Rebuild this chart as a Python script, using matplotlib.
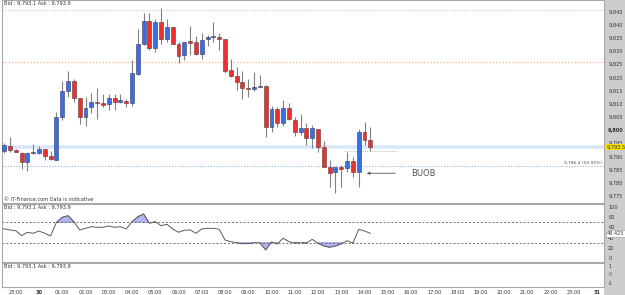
import numpy as np
import matplotlib
matplotlib.use("Agg")
import matplotlib.pyplot as plt
from matplotlib.patches import Rectangle

# 15-minute candles, 22:30 (29th) .. 14:15 (30th); hours relative to 00:00 on the 30th
opens = [9792.2, 9794.1, 9792.4, 9791.3, 9788.0, 9791.4, 9791.2, 9792.7, 9790.2, 9788.7,
         9804.9, 9815.0, 9818.7, 9812.1, 9804.9, 9808.7, 9810.8, 9810.2, 9809.8, 9812.3,
         9810.6, 9811.2, 9810.4, 9821.3, 9832.6, 9841.6, 9831.1, 9841.0, 9834.6, 9839.1,
         9832.6, 9828.6, 9833.8, 9833.4, 9828.8, 9834.5, 9835.5, 9835.5, 9834.5, 9822.8,
         9820.6, 9818.4, 9816.1, 9815.5, 9816.3, 9816.8, 9801.3, 9807.9, 9802.8, 9808.3,
         9803.9, 9799.4, 9800.9, 9796.9, 9800.4, 9793.7, 9785.9, 9784.2, 9786.1, 9785.5,
         9788.4, 9784.2, 9799.2, 9796.3]
highs = [9795.1, 9797.4, 9792.7, 9791.8, 9791.5, 9794.7, 9794.1, 9792.8, 9792.1, 9807.0,
         9818.7, 9822.5, 9819.3, 9812.2, 9812.5, 9814.2, 9816.1, 9813.6, 9813.6, 9813.6,
         9813.6, 9811.7, 9826.6, 9838.3, 9844.6, 9844.6, 9842.1, 9846.3, 9842.1, 9839.2,
         9833.6, 9833.5, 9839.6, 9835.8, 9836.8, 9836.2, 9841.0, 9836.8, 9834.6, 9826.9,
         9824.1, 9822.5, 9819.3, 9822.2, 9821.0, 9817.0, 9809.2, 9808.9, 9811.5, 9810.2,
         9804.9, 9806.0, 9802.8, 9802.0, 9800.5, 9796.0, 9788.7, 9786.0, 9786.8, 9791.8,
         9789.9, 9800.4, 9803.2, 9801.1]
lows = [9791.3, 9791.7, 9791.5, 9785.3, 9784.6, 9790.9, 9791.1, 9788.7, 9788.8, 9788.6,
        9803.9, 9812.7, 9810.8, 9802.3, 9801.7, 9806.4, 9804.2, 9808.9, 9807.7, 9807.7,
        9810.2, 9808.7, 9809.2, 9820.9, 9832.3, 9830.5, 9829.8, 9832.6, 9833.4, 9832.5,
        9825.4, 9826.6, 9828.6, 9828.6, 9826.9, 9832.1, 9833.4, 9830.5, 9821.6, 9820.3,
        9815.3, 9811.7, 9812.5, 9815.0, 9816.2, 9797.3, 9799.4, 9801.3, 9801.6, 9803.9,
        9797.8, 9798.2, 9794.4, 9793.1, 9791.8, 9785.9, 9778.5, 9776.0, 9778.5, 9784.0,
        9782.3, 9778.5, 9794.4, 9792.2]
closes = [9794.3, 9792.5, 9791.8, 9788.0, 9791.3, 9791.5, 9792.7, 9790.3, 9788.9, 9804.9,
          9814.9, 9818.7, 9812.1, 9804.9, 9808.3, 9810.8, 9810.3, 9809.6, 9812.1, 9810.7,
          9811.5, 9810.2, 9821.6, 9832.6, 9841.6, 9831.1, 9841.0, 9834.6, 9839.1, 9832.6,
          9828.3, 9833.4, 9833.2, 9828.9, 9834.2, 9835.3, 9835.8, 9834.5, 9822.6, 9820.6,
          9818.4, 9816.1, 9815.5, 9816.3, 9816.8, 9801.3, 9807.9, 9802.8, 9808.5, 9804.1,
          9799.4, 9800.9, 9796.9, 9800.7, 9793.7, 9786.1, 9783.6, 9785.9, 9785.2, 9788.4,
          9784.2, 9799.2, 9796.3, 9793.5]

# RSI, one value per candle, plus the candle before the first one (22:15)
rsi = [59.5, 57.0, 54.8, 53.5, 43.8, 50.4, 48.4, 52.9, 48.4, 43.2, 69.8,
       79.5, 82.6, 70.9, 54.8, 58.1, 61.2, 60.1, 60.1, 62.6, 60.1,
       61.2, 56.8, 70.9, 80.6, 85.9, 67.8, 70.9, 63.2, 65.9, 56.8,
       50.4, 54.3, 55.0, 48.4, 56.8, 58.1, 58.1, 56.2, 35.5, 32.2,
       30.2, 28.3, 28.3, 30.2, 30.2, 16.1, 31.6, 27.7, 38.8, 32.2,
       29.4, 30.2, 29.4, 36.8, 29.1, 23.8, 21.3, 23.8, 27.7, 34.1,
       29.4, 56.2, 52.9, 48.4]

time_labels = ["23:00", "30", "01:00", "02:00", "03:00", "04:00", "05:00", "06:00",
               "07:00", "08:00", "09:00", "10:00", "11:00", "12:00", "13:00", "14:00",
               "15:00", "16:00", "17:00", "18:00", "19:00", "20:00", "21:00", "22:00",
               "23:00", "31"]
time_ticks = list(range(-1, 25))
price_ticks = list(range(9775, 9850, 5))
rsi_ticks = [0, 20, 40, 60, 80, 100]

opens = np.array(opens)
closes = np.array(closes)
highs = np.array(highs)
lows = np.array(lows)
t = -1.5 + 0.25 * np.arange(len(opens))
t_rsi = -1.75 + 0.25 * np.arange(len(rsi))
rsi = np.array(rsi)

W, H = 625, 295
fig = plt.figure(figsize=(W / 100, H / 100), dpi=100)
fig.patch.set_facecolor("white")

def px_axes(x0, y0, x1, y1):
    return fig.add_axes([x0 / W, 1 - y1 / H, (x1 - x0) / W, (y1 - y0) / H])

# gray price strip on the right
fig.add_artist(Rectangle((604 / W, 0), 21 / W, 1, transform=fig.transFigure,
                         facecolor="#cdcdcd", edgecolor="none", zorder=0))

xlim = ((2 - 39) / 23.25, (604 - 39) / 23.25)
fs = 3.6
title = "Bid : 9,793.1 Ask : 9,793.9"
spine_c = "#a8a8a8"

def style(ax):
    ax.set_xlim(*xlim)
    ax.set_facecolor("white")
    for s in ax.spines.values():
        s.set_color(spine_c)
        s.set_linewidth(0.8)
    ax.yaxis.tick_right()
    ax.tick_params(axis="y", length=0, pad=3, labelsize=fs, labelcolor="#333333")
    ax.tick_params(axis="x", length=0, labelbottom=False)
    ax.set_xticks([])

# ---- main price panel ----
ax = px_axes(2, 0, 604, 203)
style(ax)
ax.set_ylim(9772.3, 9849.4)
ax.set_yticks(price_ticks)
ax.set_yticklabels([f"9,{p - 9000:03d}" for p in price_ticks])
for lab in ax.get_yticklabels():
    if lab.get_text() == "9,800":
        lab.set_fontweight("bold")

ax.axhline(9845.6, color="#c8c8c8", lw=0.8, ls=(0, (1, 1.5)), zorder=1)
ax.axhline(9826.0, color="#f6b493", lw=0.9, ls=(0, (1, 1.5)), zorder=1)
ax.axhline(9793.5, color="#d9e8f8", lw=2.6, zorder=1)
ax.axhline(9786.3, color="#8db2f0", lw=0.8, ls=(0, (1, 1.5)), zorder=1)
ax.hlines(9792.2, 13.16, 15.44, color="#b0b0b0", lw=0.7, ls=(0, (1, 1.5)), zorder=1)

up = closes >= opens
body_lo = np.minimum(opens, closes)
body_h = np.maximum(np.abs(closes - opens), 0.35)
ax.vlines(t, lows, highs, color="#808080", lw=0.8, zorder=2)
ax.bar(t[up], body_h[up], bottom=body_lo[up], width=0.17, color="#3a6ee6",
       edgecolor="#3a3a5a", linewidth=0.4, zorder=3)
ax.bar(t[~up], body_h[~up], bottom=body_lo[~up], width=0.17, color="#ec2f2f",
       edgecolor="#5a3a3a", linewidth=0.4, zorder=3)

ax.annotate("", xy=(13.98, 9783.6), xytext=(15.44, 9783.6),
            arrowprops=dict(arrowstyle="-|>", color="#555555", lw=0.6,
                            mutation_scale=4))
ax.text(16.0, 9783.6, "BUOB", fontsize=6, color="#555555", va="center")
ax.text(0.997, 9786.9, "9,786.4 (50.00%)", transform=ax.get_yaxis_transform(),
        fontsize=3.2, color="#555555", ha="right", va="bottom")
ax.text(0.003, 0.997, title, transform=ax.transAxes, fontsize=fs, color="#333333",
        va="top")
ax.text(0.003, 0.003, "\u00a9 IT-Finance.com Data is indicative",
        transform=ax.transAxes, fontsize=fs, color="#333333", va="bottom")
ax.text(1 + 3 / 602, 9793.5, "9,793.5", transform=ax.get_yaxis_transform(),
        fontsize=fs, color="#333333", va="center", ha="left", clip_on=False,
        bbox=dict(boxstyle="square,pad=0.15", facecolor="#f5e100", edgecolor="none"))

# ---- RSI panel ----
ar = px_axes(2, 204, 604, 262)
style(ar)
ar.set_ylim(-7.2, 105.2)
ar.set_yticks(rsi_ticks)
ar.set_yticklabels([str(v) for v in rsi_ticks])
ar.axhline(70, color="#707070", lw=0.7, ls=(0, (2, 2)))
ar.axhline(30, color="#707070", lw=0.7, ls=(0, (2, 2)))
ar.fill_between(t_rsi, rsi, 70, where=rsi > 70, interpolate=True,
                color="#b4b4f0", edgecolor="#6a6ad0", lw=0.4)
ar.fill_between(t_rsi, rsi, 30, where=rsi < 30, interpolate=True,
                color="#b4b4f0", edgecolor="#6a6ad0", lw=0.4)
ar.plot(t_rsi, rsi, color="#5a5a5a", lw=0.7)
ar.text(0.003, 0.99, title, transform=ar.transAxes, fontsize=fs, color="#333333",
        va="top")
ar.text(1 + 3 / 602, 48.425, "48.425", transform=ar.get_yaxis_transform(),
        fontsize=fs, color="#333333", va="center", ha="left", clip_on=False,
        bbox=dict(boxstyle="square,pad=0.15", facecolor="white", edgecolor="#909090",
                  linewidth=0.4))

# ---- empty bottom panel + time axis ----
ab = px_axes(2, 263, 604, 287)
style(ab)
ab.set_ylim(-1.51, 1.32)
ab.set_yticks([-1, 0, 1])
ab.set_yticklabels(["-1", "0", "1"])
ab.get_yticklabels()[1].set_color("#3050e0")
ab.text(0.003, 0.98, title, transform=ab.transAxes, fontsize=fs, color="#333333",
        va="top")
ab.set_xticks(time_ticks)
ab.set_xticklabels(time_labels)
ab.tick_params(axis="x", length=0, pad=2.2, labelbottom=True, labelsize=fs,
               labelcolor="#333333")
for lab in ab.get_xticklabels():
    if lab.get_text() in ("30", "31"):
        lab.set_fontweight("bold")

fig.savefig("out.png", dpi=100)
